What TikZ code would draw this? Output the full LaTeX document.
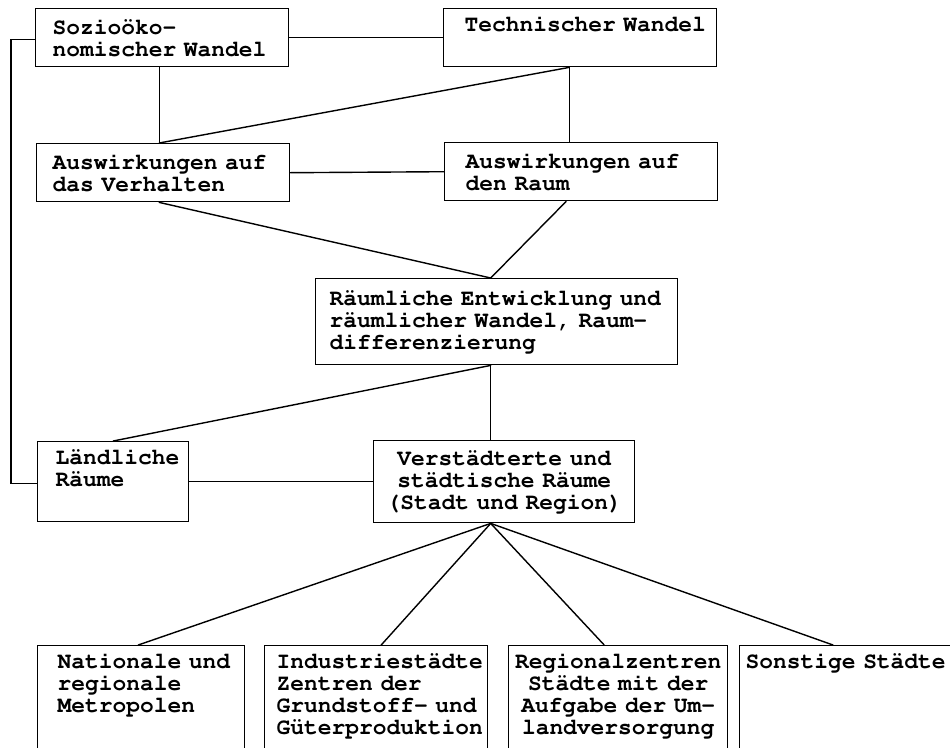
\documentclass[tikz,border=0pt]{standalone}
\usepackage[T1]{fontenc}
\usepackage{tikz}
\usetikzlibrary{positioning, calc}
\newcommand{\schreibmaschine}{\fontencoding{T1}\fontfamily{pcr}\fontseries{b}\fontsize{22.9pt}{22pt}\selectfont\spaceskip=0.6em\relax}

\begin{document}
\begin{tikzpicture}[
    x=1pt, y=-1pt,
    % 1. KAESTEN: Schreibmaschinenschrift, oben links verankert
    kasten/.style={
        draw, line width=1.4pt, anchor=north west,
        align=left, inner xsep=3pt, inner ysep=7pt, font=\schreibmaschine
    },
    % 2. EINZUG DES TEXTES VOM LINKEN RAND
    einzug/.style={execute at begin node={\leftskip=#1\relax}},
    % 3. VERBINDUNGSLINIEN (ohne Pfeilspitzen)
    linie/.style={line width=1.4pt, line cap=round}
]
    \useasboundingbox (0,0) rectangle (950,747);
    \clip (0,0) rectangle (950,747);

    % --- ZEILE 1: Wandel ---
    \node[kasten, einzug=14pt, text width=247pt, minimum height=58pt] (sozio)   at (35, 8)  {Sozioöko-\\nomischer Wandel};
    \node[kasten, einzug=18pt, text width=267pt, minimum height=58pt] (technik) at (443, 8) {Technischer Wandel\\\strut};

    % --- ZEILE 2: Auswirkungen ---
    \node[kasten, einzug=13pt, text width=247pt, minimum height=58pt] (verhalten) at (36, 143)  {Auswirkungen auf\\das Verhalten};
    \node[kasten, einzug=18pt, text width=267pt, minimum height=58pt] (raum)      at (444, 142) {Auswirkungen auf\\den Raum};

    % --- ZEILE 3: Raeumliche Entwicklung ---
    \node[kasten, einzug=11pt, text width=356pt, minimum height=86pt] (entwicklung) at (315, 278)
        {Räumliche Entwicklung und\\räumlicher Wandel, Raum-\\differenzierung};

    % --- ZEILE 4: Raumtypen ---
    \node[kasten, einzug=15pt, text width=145pt, minimum height=80pt] (land)  at (37, 441)  {Ländliche\\Räume\\\strut};
    \node[kasten, align=center, text width=255pt, minimum height=82pt] (stadt) at (373, 440)
        {Verstädterte und\\städtische Räume\\(Stadt und Region)};

    % --- ZEILE 5: Stadttypen (unten abgeschnitten) ---
    \node[kasten, einzug=17pt, text width=201pt, minimum height=124pt] (metropolen) at (37, 645)
        {Nationale und\\regionale\\Metropolen\\\strut\\\strut};
    \node[kasten, einzug=9pt, text width=217pt, minimum height=124pt] (industrie)  at (264, 645)
        {Industriestädte\\Zentren der\\Grundstoff- und\\Güterproduktion\\\strut};
    \node[kasten, align=center, text width=213pt, minimum height=124pt] (regional) at (508, 645)
        {Regionalzentren\\Städte mit der\\Aufgabe der Um-\\landversorgung\\\strut};
    \node[kasten, einzug=3pt, text width=226pt, minimum height=124pt] (sonstige)   at (739, 645)
        {Sonstige Städte\\\strut\\\strut\\\strut\\\strut};

    % ==========================================
    % VERBINDUNGEN
    % ==========================================
    \coordinate (vn) at ([xshift=-4pt]verhalten.north);
    \coordinate (tk) at ([xshift=-11pt]technik.south);
    \coordinate (en) at ([xshift=-6pt]entwicklung.north);
    \coordinate (es) at (en |- entwicklung.south);
    \coordinate (hub) at (es |- stadt.south);

    % Wandel untereinander und Rueckkopplung zum laendlichen Raum
    \draw[linie] (sozio.east) -- (technik.west);
    \draw[linie] ([yshift=-2pt]sozio.west) -- ++(-24,0) |- ([yshift=-2pt]land.west);

    % Wandel -> Auswirkungen
    \draw[linie] (vn |- sozio.south) -- (vn);
    \draw[linie] (tk) -- (vn);
    \draw[linie] (tk) -- (tk |- raum.north);
    \draw[linie] (verhalten.east) -- (raum.west);

    % Auswirkungen -> Raeumliche Entwicklung
    \draw[linie] (vn |- verhalten.south) -- (en);
    \draw[linie] ([xshift=-15pt]raum.south) -- (en);

    % Raeumliche Entwicklung -> Raumtypen
    \draw[linie] (es) -- (land.north);
    \draw[linie] (es) -- (hub |- stadt.north);
    \draw[linie] (land.east) -- (stadt.west);

    % Stadt und Region -> Stadttypen (Auffaecherung)
    \draw[linie] (hub) -- ([xshift=-3pt]metropolen.north);
    \draw[linie] (hub) -- ([xshift=5pt]industrie.north);
    \draw[linie] (hub) -- ([xshift=-14pt]regional.north);
    \draw[linie] (hub) -- ([xshift=94pt]sonstige.north west);

\end{tikzpicture}
\end{document}
